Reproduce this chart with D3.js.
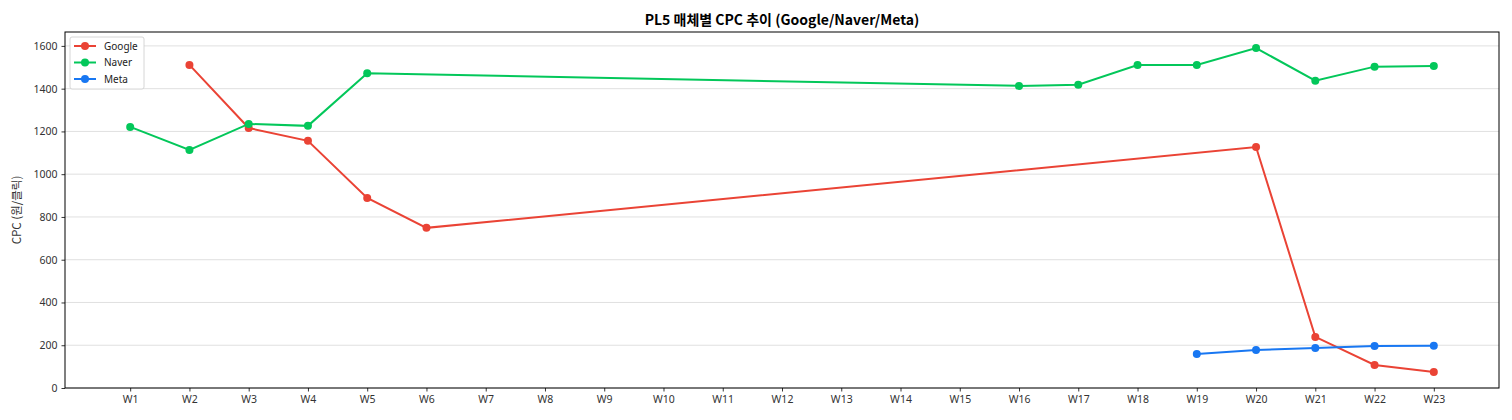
<!DOCTYPE html>
<html><head><meta charset="utf-8">
<script src="https://cdn.jsdelivr.net/npm/d3@7"></script>
<style>body{margin:0;background:#fff}svg{display:block}text{font-family:"Noto Sans CJK KR","Noto Sans",sans-serif}</style>
</head><body><svg id="c" width="1512" height="420"></svg>
<script>
const weeks = ["W1","W2","W3","W4","W5","W6","W7","W8","W9","W10","W11","W12","W13","W14","W15","W16","W17","W18","W19","W20","W21","W22","W23"];
const googleWeeks = ["W2","W3","W4","W5","W6","W20","W21","W22","W23"];
const googleValues = [1511,1216,1156,889,749,1127,239,108,75];
const naverWeeks = ["W1","W2","W3","W4","W5","W16","W17","W18","W19","W20","W21","W22","W23"];
const naverValues = [1221,1113,1235,1226,1472,1413,1418,1511,1511,1590,1437,1503,1506];
const metaWeeks = ["W19","W20","W21","W22","W23"];
const metaValues = [159,178,187,196,198];
const yTicks = [0,200,400,600,800,1000,1200,1400,1600];

const series = [
  {name:"Google", color:"#EA4335", weeks:googleWeeks, values:googleValues},
  {name:"Naver", color:"#03C75A", weeks:naverWeeks, values:naverValues},
  {name:"Meta", color:"#1877F2", weeks:metaWeeks, values:metaValues}
];

const svg = d3.select("#c");
const L=65, R=1499, T=32, B=388;
const idx = d3.scaleLinear().domain([-1.1, weeks.length-1+1.1]).range([L,R]);
const x = w => idx(weeks.indexOf(w));
const y = d3.scaleLinear().domain([0,1665]).range([B,T]);

// grid
svg.append("g").selectAll("line").data(yTicks).join("line")
  .attr("x1",L).attr("x2",R).attr("y1",d=>y(d)).attr("y2",d=>y(d))
  .attr("stroke","#dcdcdc").attr("stroke-width",0.9);

// axes
const xa = svg.append("g").attr("transform",`translate(0,${B})`)
  .call(d3.axisBottom(d3.scalePoint().domain(weeks).range([idx(0), idx(weeks.length-1)])).tickSize(3.5).tickPadding(4));
const ya = svg.append("g").attr("transform",`translate(${L},0)`)
  .call(d3.axisLeft(y).tickValues(yTicks).tickSize(3.5).tickPadding(4).tickFormat(d3.format("d")));
[xa,ya].forEach(a=>{a.select(".domain").remove();a.selectAll("text").attr("font-size",10.5).attr("fill","#333")
  .style("font-family","'Noto Sans','DejaVu Sans',sans-serif");a.selectAll("line").attr("stroke","#000").attr("stroke-width",0.8);});

// lines
const line = d3.line().x(d=>x(d.w)).y(d=>y(d.v));
series.forEach(s=>{
  const pts = s.weeks.map((w,i)=>({w, v:s.values[i]}));
  svg.append("path").datum(pts).attr("d",line).attr("fill","none").attr("stroke",s.color).attr("stroke-width",2);
  svg.append("g").selectAll("circle").data(pts).join("circle")
    .attr("cx",d=>x(d.w)).attr("cy",d=>y(d.v)).attr("r",4).attr("fill",s.color);
});

// frame
svg.append("rect").attr("x",L).attr("y",T).attr("width",R-L).attr("height",B-T)
  .attr("fill","none").attr("stroke","#000").attr("stroke-width",1);

// title
svg.append("text").attr("x",(L+R)/2).attr("y",25).attr("text-anchor","middle")
  .attr("font-size",14).attr("font-weight","bold").attr("fill","#000").text("PL5 매체별 CPC 추이 (Google/Naver/Meta)");
// y label
svg.append("text").attr("transform",`translate(21,${(T+B)/2}) rotate(-90)`).attr("text-anchor","middle")
  .attr("font-size",11.5).attr("fill","#333").text("CPC (원/클릭)");

// legend
const lg = svg.append("g").attr("transform","translate(70,37)");
lg.append("rect").attr("width",74).attr("height",52).attr("rx",2).attr("fill","#fff").attr("stroke","#ccc").attr("stroke-width",0.8);
series.forEach((s,i)=>{
  const g = lg.append("g").attr("transform",`translate(4,${9+i*16.5})`);
  g.append("line").attr("x1",0).attr("x2",22).attr("stroke",s.color).attr("stroke-width",2);
  g.append("circle").attr("cx",11).attr("r",4).attr("fill",s.color);
  g.append("text").attr("x",30).attr("y",3.5).attr("font-size",10).attr("fill","#222")
    .style("font-family","'Noto Sans','DejaVu Sans',sans-serif").text(s.name);
});
</script></body></html>
